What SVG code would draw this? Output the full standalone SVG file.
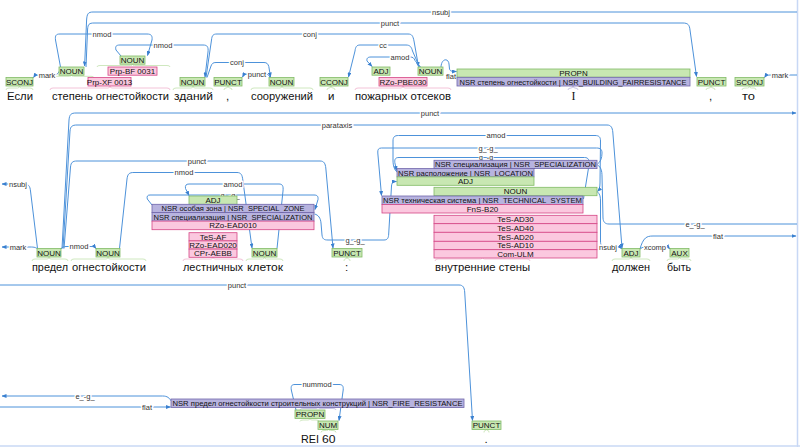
<svg xmlns="http://www.w3.org/2000/svg" width="800" height="447" viewBox="0 0 800 447">
<defs>
<marker id="ah" markerUnits="userSpaceOnUse" markerWidth="5" markerHeight="4" refX="4.5" refY="2" orient="auto"><path d="M0,0 L5,2 L0,4 z" fill="#3a80d0"/></marker>
<style>
.w{font-family:"Liberation Sans",Arial,sans-serif;font-size:11.5px;fill:#111}
.t{font-family:"Liberation Sans",Arial,sans-serif;font-size:8px;text-anchor:middle;fill:#111}
.l{font-family:"Liberation Sans",Arial,sans-serif;font-size:7.5px;text-anchor:middle;fill:#333;stroke:#fff;stroke-width:3;paint-order:stroke;stroke-linejoin:round}
.g{fill:#c8e7b2;stroke:#82bb66;stroke-width:0.8}
.p{fill:#fbc8df;stroke:#d54686;stroke-width:0.8}
.v{fill:#b7b3df;stroke:#7066ab;stroke-width:0.8}
.a{fill:none;stroke:#4d92da;stroke-width:1}
.m{marker-end:url(#ah)}
.bg{fill:none;stroke:#cfe8bf;stroke-width:1}
.bp{fill:none;stroke:#f3c3d8;stroke-width:1}
.bv{fill:none;stroke:#c9c6e6;stroke-width:1}
.fr{fill:none;stroke:#c8d8f5;stroke-width:1.5}
</style>
</defs>
<rect width="800" height="447" fill="#fff"/>
<g id="frame">
<line class="fr" x1="797.5" y1="0" x2="797.5" y2="447"/>
<line class="fr" x1="0" y1="446" x2="800" y2="446"/>
</g>

<g id="brackets">
<path class="bg" d="M6,90 Q6,88 9,88 L17.5,88 Q19.5,88 19.5,86 Q19.5,88 21.5,88 L30,88 Q33,88 33,90"/>
<path class="bp" d="M50,90 Q50,88 53,88 L108,88 Q110,88 110,86 Q110,88 112,88 L167,88 Q170,88 170,90"/>
<path class="bg" d="M173,90 Q173,88 176,88 L191,88 Q193,88 193,86 Q193,88 195,88 L210,88 Q213,88 213,90"/>
<path class="bg" d="M224,90 Q224,88 226,88 Q228,88 228,86 Q228,88 230,88 Q232,88 232,90"/>
<path class="bg" d="M251,90 Q251,88 254,88 L280,88 Q282,88 282,86 Q282,88 284,88 L310,88 Q313,88 313,90"/>
<path class="bg" d="M327,90 Q327,88 329,88 Q331,88 331,86 Q331,88 333,88 Q335,88 335,90"/>
<path class="bp" d="M355,90 Q355,88 358,88 L401,88 Q403,88 403,86 Q403,88 405,88 L448,88 Q451,88 451,90"/>
<path class="bv" d="M568,90 Q568,88 571,88 Q573,88 573,86 Q573,88 575,88 Q578,88 578,90"/>
<path class="bg" d="M706,90 Q706,88 709,88 Q711,88 711,86 Q711,88 713,88 Q715,88 715,90"/>
<path class="bg" d="M742,90 Q742,88 745,88 L747.5,88 Q749.5,88 749.5,86 Q749.5,88 751.5,88 L754,88 Q756,88 756,90"/>
<path class="bg" d="M52,78 Q52,76.3 55,76.3 L69.5,76.3 Q71.5,76.3 71.5,74.8 Q71.5,76.3 73.5,76.3 L91,76.3 Q94,76.3 94,78"/>
<path class="bg" d="M97,67 Q97,65.5 100,65.5 L130.5,65.5 Q132.5,65.5 132.5,64 Q132.5,65.5 134.5,65.5 L167,65.5 Q170,65.5 170,67"/>
<path class="bg" d="M32,261 Q32,259 35,259 L47,259 Q49,259 49,257 Q49,259 51,259 L65,259 Q68,259 68,261"/>
<path class="bg" d="M71,261 Q71,259 74,259 L106,259 Q108,259 108,257 Q108,259 110,259 L143,259 Q146,259 146,261"/>
<path class="bp" d="M183,261 Q183,259 186,259 L211,259 Q213,259 213,257 Q213,259 215,259 L240,259 Q243,259 243,261"/>
<path class="bg" d="M246,261 Q246,259 249,259 L262.5,259 Q264.5,259 264.5,257 Q264.5,259 266.5,259 L280,259 Q283,259 283,261"/>
<path class="bg" d="M344,261 Q344,259 345,259 Q347,259 347,257 Q347,259 349,259 Q350,259 350,261"/>
<path class="bp" d="M435,261 Q435,259 438,259 L480.5,259 Q482.5,259 482.5,257 Q482.5,259 484.5,259 L527,259 Q530,259 530,261"/>
<path class="bg" d="M612,261 Q612,259 615,259 L629,259 Q631,259 631,257 Q631,259 633,259 L647,259 Q650,259 650,261"/>
<path class="bg" d="M667,261 Q667,259 670,259 L677.5,259 Q679.5,259 679.5,257 Q679.5,259 681.5,259 L688,259 Q691,259 691,261"/>
<path class="bv" d="M300,410 Q300,408.5 303,408.5 L316,408.5 Q318,408.5 318,407 Q318,408.5 320,408.5 L333,408.5 Q336,408.5 336,410"/>
<path class="bg" d="M300,421.5 Q300,420 303,420 L308,420 Q310,420 310,418.5 Q310,420 312,420 L316,420 Q319,420 319,421.5"/>
<path class="bg" d="M321,432.5 Q321,430.5 324,430.5 L326.5,430.5 Q328.5,430.5 328.5,429 Q328.5,430.5 330.5,430.5 L333,430.5 Q336,430.5 336,432.5"/>
<path class="bg" d="M484,432.5 Q484,430.5 485,430.5 Q486.5,430.5 486.5,429 Q486.5,430.5 488,430.5 Q489,430.5 489,432.5"/>
</g>

<g id="connectors">
<path class="a m" d="M797,12 L93,12 C88,12 87,14 86.6,20 L84.6,66"/>
<path class="a m" d="M86,67 L87.6,29 C88,24.5 89,23 94,23 L683,23 C688,23 689.5,25 690,30 L696.5,76.5"/>
<path class="a m" d="M60.5,67 L55.5,40 C55,35.5 56,34 60,34 L147,34 C151.5,34 152.5,36 152,40 L147.5,55.5"/>
<path class="a m" d="M121,56 L116,50 C115,46.5 116,45 120,45 L203,45 C207.5,45 208.5,47 208,52 L205,77"/>
<path class="a m" d="M206,77.5 L211.5,40 C212,35.5 213,34 217,34 L408,34 C412,34 413,36 414,41 L418.5,66.5"/>
<path class="a m" d="M419.5,67 L412.5,51 C411.5,47 410,45 406,45 L360,45 C356.5,45 355.5,47 355,51 L348.5,77"/>
<path class="a m" d="M420.5,67 L415,60.5 C414,58 413,57 410,57 L371,57 C367.5,57 366.5,58.5 367,61 L372,66.5"/>
<path class="a m" d="M207,77.5 L211,66 C212,63.5 213,62.5 216,62.5 L264,62.5 C267,62.5 268,64 268.8,66.5 L270.5,77"/>
<path class="a m" d="M270,77.5 C269,75 268,74 265,74 L248,74 C245,74 243.5,75 242.5,77"/>
<path class="a m" d="M59.5,71 C58,74 56.5,75 53,75 L39,75 C36,75 34.5,76 33.5,77.5"/>
<path class="a m" d="M441,67 C441.5,58 448.5,58 449,64 L449.5,69 C450,71 451.5,71.5 456.5,71.5"/>
<path class="a m" d="M797,75 L770,75 C767,75 765.5,76 764.5,77.5"/>

<path class="a m" d="M62,248.5 L69,120 C69.5,114.5 71,113 76,113 L796,113"/>
<path class="a m" d="M63,248.5 L70,131 C70.5,126.5 72,125 77,125 L607,125 C611,125 612.3,127.5 612.8,132 L622,248"/>
<path class="a m" d="M64,248.5 L70.5,167 C71,162.5 72.5,161 77,161 L320,161 C324,161 325.3,163.5 325.8,168 L333,248"/>
<path class="a m" d="M37.5,248.5 L30.5,191 C30,186 28.5,184 24,184 L2,184"/>
<path class="a m" d="M37.5,249 C36,247.5 34.5,247 30,247 L2,247"/>
<path class="a m" d="M61,249 C62,247 63.5,246.5 67,246.5 L91,246.5 C94,246.5 95,247.2 96,248.5"/>
<path class="a m" d="M119.5,248.5 L127,179 C127.7,174 129,172.5 134,172.5 L237,172.5 C241,172.5 242.3,175 242.8,180 L252,248"/>
<path class="a m" d="M277,248.5 L283,191 C283.5,186 282.5,184 279,184 L189,184 C186,184 185,185.5 185.5,188.5 L189,195.5"/>
<path class="a m" d="M152,205 L147.3,199 C146.7,196.5 147.3,195 150,195 L314,195 C317.5,195 318.3,196.5 318,199.5 L315,209.5"/>
<path class="a m" d="M314.5,214 C318.5,215 320.5,218 321,223 L322,235 C322.5,239 324,240 328,240 L384,240 C387.5,240 388.5,238 388.7,234 L391.5,186 C391.8,182.5 393,181.5 396.5,181.5"/>
<path class="a m" d="M397,172 C394.5,170 393,166 393,160 L393,141 C393,137 394.5,135.5 398.5,135.5 L595,135.5 C599,135.5 600.5,137 600.5,141 L600,183 C600,187.5 599,190 597.5,191.5"/>
<path class="a m" d="M597.5,164 C600.5,162 602,158 602,153 C602,149.5 600.5,148 596.5,148 L381.5,148 C378.5,148 377.5,149.5 377.8,153 L381.5,195.5"/>
<path class="a m" d="M583.5,199 L589,165 C589.5,160 588.5,157.5 584.5,157.5 L399,157.5 C395.5,157.5 394.5,159 394.8,162.5 L396.5,170.5"/>
<path class="a m" d="M597.5,192 C600,194 600.5,197 600.5,201 L600.5,241 C600.5,245 601.5,247 605,247 L617,247 C619.5,247 620.8,247.7 621.8,248.8"/>
<path class="a" d="M597.5,165 C601,167 602,171 602,176 L603,218 C603.3,222 605,224 609,224 L797,224"/>
<path class="a m" d="M640,249 C641,245 643,240 645.5,238 C647.5,236.5 649.5,236 653,236 L796,236"/>
<path class="a m" d="M640,249.5 C641,247.8 642.5,247 646,247 L665,247 C667.5,247 668.8,247.7 669.8,248.8"/>

<path class="a m" d="M0,285 L459,285 C463,285 464.3,287.5 464.7,292 L472.5,420.5"/>
<path class="a m" d="M171.5,401.5 C169.5,398 167.5,396 162.5,396 L2,396"/>
<path class="a m" d="M0,407 L170.5,407"/>
<path class="a m" d="M296,410 L291.3,390 C290.8,386 291.5,384.5 295,384.5 L339,384.5 C342.5,384.5 343.5,386 343.2,390 L339,420.5"/>

<text class="l" x="441" y="14.6">nsubj</text>
<text class="l" x="390" y="25.6">punct</text>
<text class="l" x="102" y="36.6">nmod</text>
<text class="l" x="163" y="47.6">nmod</text>
<text class="l" x="310" y="36.6">conj</text>
<text class="l" x="383" y="47.6">cc</text>
<text class="l" x="400" y="59.6">amod</text>
<text class="l" x="237" y="65.1">conj</text>
<text class="l" x="257" y="76.6">punct</text>
<text class="l" x="47" y="77.6">mark</text>
<text class="l" x="451" y="79" style="stroke-width:2">flat</text>
<text class="l" x="780" y="77.6">mark</text>

<text class="l" x="430" y="115.6">punct</text>
<text class="l" x="337" y="127.6">parataxis</text>
<text class="l" x="197" y="163.6">punct</text>
<text class="l" x="18" y="186.6">nsubj</text>
<text class="l" x="18" y="249.6">mark</text>
<text class="l" x="79" y="249.1">nmod</text>
<text class="l" x="184" y="175.1">nmod</text>
<text class="l" x="233" y="186.6">amod</text>
<text class="l" x="230" y="197.6" style="stroke-width:2">g_-g_</text>
<text class="l" x="355" y="242.6">g_-g_</text>
<text class="l" x="496" y="138.1">amod</text>
<text class="l" x="488" y="150.6">g_-g_</text>
<text class="l" x="488" y="159.6" style="stroke-width:1.5;font-size:7px">g_-g_</text>
<text class="l" x="608" y="249.6">nsubj</text>
<text class="l" x="695" y="226.6">e_-g_</text>
<text class="l" x="718" y="238.6">flat</text>
<text class="l" x="655" y="249.6">xcomp</text>

<text class="l" x="237" y="287.6">punct</text>
<text class="l" x="85" y="398.6">e_-g_</text>
<text class="l" x="147" y="409.6">flat</text>
<text class="l" x="317" y="387.1">nummod</text>
</g>

<g id="n-esli"><rect class="g" x="6" y="77.5" width="27" height="8.5"/><text class="t" x="19.5" y="84.6">SCONJ</text><text class="w" x="7" y="99.5" textLength="26" lengthAdjust="spacingAndGlyphs">Если</text></g>
<g id="n-stepen"><rect class="g" x="59" y="67" width="25" height="8.2"/><text class="t" x="71.5" y="73.9">NOUN</text><rect class="p" x="88" y="77.5" width="43" height="8.5"/><text class="t" x="109.5" y="84.6">Prp-XF 0013</text><text class="w" x="52" y="99.5" textLength="117" lengthAdjust="spacingAndGlyphs">степень огнестойкости</text></g>
<g id="n-ognest1"><rect class="g" x="120" y="56" width="25" height="8.2"/><text class="t" x="132.5" y="62.9">NOUN</text><rect class="p" x="108" y="67" width="49" height="8.2"/><text class="t" x="132.5" y="73.9">Prp-BF 0031</text></g>
<g id="n-zdaniy"><rect class="g" x="180" y="77.5" width="25" height="8.5"/><text class="t" x="192.5" y="84.6">NOUN</text><text class="w" x="174" y="99.5" textLength="39" lengthAdjust="spacingAndGlyphs">зданий</text></g>
<g id="n-comma1"><rect class="g" x="214" y="77.5" width="28" height="8.5"/><text class="t" x="228" y="84.6">PUNCT</text><text class="w" x="226" y="99.5">,</text></g>
<g id="n-sooruzh"><rect class="g" x="269" y="77.5" width="25" height="8.5"/><text class="t" x="281.5" y="84.6">NOUN</text><text class="w" x="251" y="99.5" textLength="62" lengthAdjust="spacingAndGlyphs">сооружений</text></g>
<g id="n-i"><rect class="g" x="320" y="77.5" width="28" height="8.5"/><text class="t" x="334" y="84.6">CCONJ</text><text class="w" x="328" y="99.5">и</text></g>
<g id="n-pozhar"><rect class="g" x="372" y="67" width="18" height="8.2"/><text class="t" x="381" y="73.9">ADJ</text><rect class="p" x="379" y="77.5" width="48" height="8.5"/><text class="t" x="403" y="84.6">RZo-PBE030</text><text class="w" x="355" y="99.5" textLength="96" lengthAdjust="spacingAndGlyphs">пожарных отсеков</text></g>
<g id="n-otsekov"><rect class="g" x="418" y="67" width="25" height="8.2"/><text class="t" x="430.5" y="73.9">NOUN</text></g>
<g id="n-I"><rect class="g" x="457" y="69" width="233" height="8.2"/><text class="t" x="573.5" y="75.9">PROPN</text><rect class="v" x="457" y="77.3" width="233" height="8.7"/><text class="t" x="573" y="84.6" textLength="227" lengthAdjust="spacingAndGlyphs" style="font-size:7.5px">NSR степень огнестойкости | NSR_BUILDING_FAIRRESISTANCE</text><text x="571.5" y="99.5" style="font-family:'Liberation Serif',serif;font-size:12px;fill:#111">I</text></g>
<g id="n-comma2"><rect class="g" x="697" y="77.5" width="29" height="8.5"/><text class="t" x="711.5" y="84.6">PUNCT</text><text class="w" x="709" y="99.5">,</text></g>
<g id="n-to"><rect class="g" x="735" y="77.5" width="29" height="8.5"/><text class="t" x="749.5" y="84.6">SCONJ</text><text class="w" x="742" y="99.5" textLength="13" lengthAdjust="spacingAndGlyphs">то</text></g>

<g id="n-predel"><rect class="g" x="37" y="248.5" width="24" height="8.5"/><text class="t" x="49" y="255.6">NOUN</text><text class="w" x="32" y="270.5" textLength="36" lengthAdjust="spacingAndGlyphs">предел</text></g>
<g id="n-ognest2"><rect class="g" x="96" y="248.5" width="24" height="8.5"/><text class="t" x="108" y="255.6">NOUN</text><text class="w" x="72" y="270.5" textLength="74" lengthAdjust="spacingAndGlyphs">огнестойкости</text></g>
<g id="n-lestn"><rect class="g" x="189" y="196" width="48" height="8.3"/><text class="t" x="213" y="203">ADJ</text>
<rect class="v" x="152" y="204.3" width="162" height="8.3"/><text class="t" x="233" y="211.2" textLength="143" lengthAdjust="spacingAndGlyphs">NSR особая зона | NSR_SPECIAL_ZONE</text>
<rect class="v" x="152" y="212.6" width="162" height="8.5"/><text class="t" x="233" y="219.6" textLength="159" lengthAdjust="spacingAndGlyphs">NSR специализация | NSR_SPECIALIZATION</text>
<rect class="p" x="152" y="221.1" width="162" height="8.6"/><text class="t" x="233" y="228.2">RZo-EAD010</text>
<rect class="p" x="189" y="232.7" width="48" height="8.2"/><text class="t" x="213" y="239.6">TeS-AF</text>
<rect class="p" x="189" y="240.9" width="48" height="8.2"/><text class="t" x="213" y="247.8">RZo-EAD020</text>
<rect class="p" x="189" y="249.1" width="48" height="8.2"/><text class="t" x="213" y="256">CPr-AEBB</text>
<text class="w" x="183" y="270.5" textLength="60" lengthAdjust="spacingAndGlyphs">лестничных</text></g>
<g id="n-kletok"><rect class="g" x="252" y="248.5" width="25" height="8.5"/><text class="t" x="264.5" y="255.6">NOUN</text><text class="w" x="247" y="270.5" textLength="36" lengthAdjust="spacingAndGlyphs">клеток</text></g>
<g id="n-colon"><rect class="g" x="332" y="248.5" width="30" height="8.5"/><text class="t" x="347" y="255.6">PUNCT</text><text class="w" x="345" y="270.5">:</text></g>
<g id="n-steny">
<rect class="v" x="434" y="160.3" width="163" height="8.3"/><text class="t" x="515.5" y="167.2" textLength="161" lengthAdjust="spacingAndGlyphs">NSR специализация | NSR_SPECIALIZATION</text>
<rect class="v" x="397" y="168.6" width="137" height="8.3"/><text class="t" x="465.5" y="175.5" textLength="135" lengthAdjust="spacingAndGlyphs">NSR расположение | NSR_LOCATION</text>
<rect class="g" x="397" y="176.9" width="137" height="8.4"/><text class="t" x="465.5" y="183.9">ADJ</text>
<rect class="g" x="434" y="187.3" width="163" height="8.4"/><text class="t" x="515.5" y="194.3">NOUN</text>
<rect class="v" x="382" y="196" width="201" height="8.5"/><text class="t" x="482.5" y="203" textLength="199" lengthAdjust="spacingAndGlyphs">NSR техническая система | NSR_TECHNICAL_SYSTEM</text>
<rect class="p" x="382" y="204.5" width="201" height="8.5"/><text class="t" x="482.5" y="211.5">FnS-B20</text>
<rect class="p" x="434" y="215.3" width="163" height="8.4"/><text class="t" x="515.5" y="222.3">TeS-AD30</text>
<rect class="p" x="434" y="223.7" width="163" height="8.6"/><text class="t" x="515.5" y="230.8">TeS-AD40</text>
<rect class="p" x="434" y="232.3" width="163" height="9"/><text class="t" x="515.5" y="239.6">TeS-AD20</text>
<rect class="p" x="434" y="241.3" width="163" height="8.4"/><text class="t" x="515.5" y="248.3">TeS-AD10</text>
<rect class="p" x="434" y="249.7" width="163" height="8.3"/><text class="t" x="515.5" y="256.6">Com-ULM</text>
<text class="w" x="435" y="270.5" textLength="95" lengthAdjust="spacingAndGlyphs">внутренние стены</text></g>
<g id="n-dolzhen"><rect class="g" x="622" y="248.5" width="18" height="8.5"/><text class="t" x="631" y="255.6">ADJ</text><text class="w" x="612" y="270.5" textLength="38" lengthAdjust="spacingAndGlyphs">должен</text></g>
<g id="n-byt"><rect class="g" x="670" y="248.5" width="19" height="8.5"/><text class="t" x="679.5" y="255.6">AUX</text><text class="w" x="667" y="270.5" textLength="24" lengthAdjust="spacingAndGlyphs">быть</text></g>

<g id="n-rei"><rect class="v" x="171" y="399" width="293" height="8.5"/><text class="t" x="317.5" y="406" textLength="290" lengthAdjust="spacingAndGlyphs">NSR предел огнестойкости строительных конструкций | NSR_FIRE_RESISTANCE</text>
<rect class="g" x="295" y="410" width="30" height="8.5"/><text class="t" x="310" y="417">PROPN</text><text class="w" x="301" y="443" textLength="18" lengthAdjust="spacingAndGlyphs">REI</text></g>
<g id="n-60"><rect class="g" x="318" y="421" width="20" height="8.5"/><text class="t" x="328" y="428">NUM</text><text class="w" x="322" y="443" textLength="13.5" lengthAdjust="spacingAndGlyphs">60</text></g>
<g id="n-dot"><rect class="g" x="472" y="421" width="29" height="8.5"/><text class="t" x="486.5" y="428">PUNCT</text><text class="w" x="484.5" y="443">.</text></g>
</svg>
